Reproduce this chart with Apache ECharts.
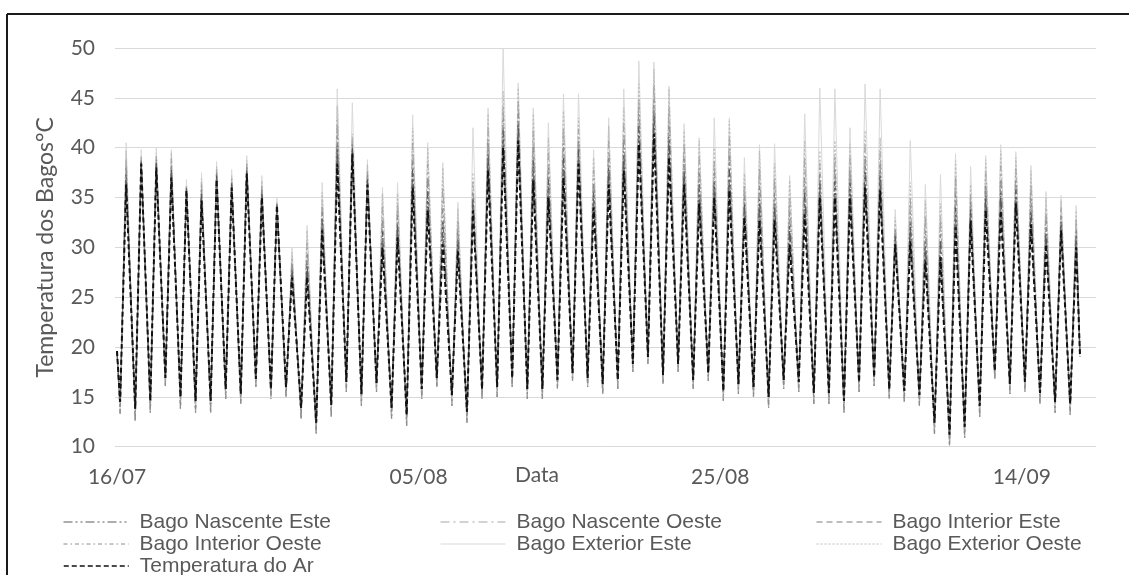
<!DOCTYPE html>
<html>
<head>
<meta charset="utf-8">
<script src="https://cdn.jsdelivr.net/npm/echarts@6/dist/echarts.min.js"></script>
<style>
  html, body { margin: 0; padding: 0; background: #fff; }
  #chart { width: 1129px; height: 575px; }
</style>
</head>
<body>
<div id="chart"></div>
<script>
// ---- DATA ----
// x = days since 16/07 00:00; one daily minimum (early morning) and one daily maximum (afternoon)
const tickDays = [0, 20, 40, 60];
const tickLabels = ['16/07', '05/08', '25/08', '14/09'];
const minHour = 5;      // hour of daily minimum
const maxHour = 14.5;   // hour of daily maximum
const lastReadingDay = 63.86;

const seriesNames = ['Bago Nascente Este', 'Bago Nascente Oeste', 'Bago Interior Este',
  'Bago Interior Oeste', 'Bago Exterior Este', 'Bago Exterior Oeste', 'Temperatura do Ar'];

// daily maxima
const maxNascenteEste = [37.3,38.6,38.5,37.8,35.9,35.4,37.2,36.4,37.8,35.5,34.3,27.8,28.4,32.9,40.2,40.0,36.9,31.6,32.3,37.8,35.6,32.6,30.9,34.9,39.4,41.7,42.3,38.7,36.8,39.0,39.8,35.5,38.1,39.6,42.2,43.4,41.1,37.9,36.3,36.5,37.8,34.3,34.8,34.4,32.2,35.5,36.4,36.7,36.6,37.7,37.3,31.1,32.4,30.5,30.6,34.0,33.8,35.2,35.5,35.8,33.9,31.7,32.6,31.1];
const maxNascenteOeste = [38.9,39.0,39.1,38.9,36.1,36.4,37.8,36.9,38.4,36.3,34.4,28.9,30.5,34.6,42.8,40.9,37.8,34.1,34.3,40.5,38.4,36.1,32.8,36.6,42.0,44.3,44.7,41.7,39.5,42.0,41.9,37.8,40.7,42.4,44.9,46.3,44.2,40.4,39.1,38.8,41.0,36.3,38.0,37.0,35.1,38.9,38.5,39.3,39.1,40.3,39.7,32.3,35.0,33.2,33.1,37.0,35.4,37.5,38.2,37.9,36.4,33.8,34.0,32.8];
const maxInteriorEste = [36.8,38.5,38.2,37.4,35.8,35.0,37.0,36.2,37.6,35.3,34.2,27.4,27.7,32.3,39.3,39.7,36.6,30.8,31.7,36.9,34.6,31.4,30.2,34.3,38.6,40.9,41.5,37.7,35.9,38.0,39.1,34.8,37.2,38.6,41.3,42.4,40.0,37.1,35.3,35.8,36.7,33.7,33.8,33.6,31.3,34.4,35.7,35.9,35.8,36.9,36.5,30.7,31.5,29.6,29.8,33.0,33.2,34.5,34.6,35.1,33.1,31.0,32.2,30.6];
const maxInteriorOeste = [38.0,38.8,38.8,38.3,36.0,35.8,37.5,36.6,38.1,35.9,34.4,28.3,29.4,33.6,41.3,40.4,37.3,32.7,33.2,39.0,36.9,34.2,31.8,35.6,40.6,42.9,43.4,40.1,38.0,40.4,40.7,36.5,39.3,40.9,43.4,44.7,42.5,39.0,37.6,37.5,39.2,35.2,36.2,35.6,33.5,37.0,37.4,37.9,37.7,38.9,38.4,31.7,33.6,31.7,31.7,35.4,34.5,36.3,36.7,36.7,35.0,32.7,33.2,31.9];
const maxExteriorEste = [40.5,39.8,40.0,39.8,36.8,37.5,38.6,37.8,39.2,37.2,35.0,30.0,32.2,36.5,45.9,44.5,38.8,36.0,36.5,43.3,40.5,38.5,34.5,42.0,44.0,49.9,46.5,44.0,42.5,45.4,45.4,39.8,43.0,45.9,48.7,48.6,46.2,42.4,41.0,43.0,43.0,39.0,40.3,40.4,37.2,43.4,46.0,45.9,42.0,46.4,45.9,33.8,40.7,36.3,37.3,39.4,38.1,39.2,40.3,39.6,38.2,35.6,35.2,34.2];
const maxExteriorOeste = [39.7,39.2,39.5,39.5,36.2,36.9,38.1,37.2,38.7,36.7,34.5,29.5,31.7,35.5,44.2,41.4,38.3,35.4,35.4,42.0,40.0,38.0,33.9,37.5,43.4,45.7,46.0,43.4,41.0,43.7,43.0,39.0,42.2,44.0,46.4,47.9,45.9,41.7,40.7,40.0,42.7,37.4,39.7,38.4,36.7,40.7,39.7,40.7,40.4,41.7,41.0,33.0,36.5,34.7,34.4,38.7,36.3,38.8,39.7,39.0,37.7,35.0,34.7,33.7];
const maxAr = [36.3,38.4,38.0,37.0,35.7,34.7,36.8,36.0,37.4,35.0,34.2,27.0,27.0,31.7,38.4,39.4,36.3,30.0,31.0,36.0,33.7,30.3,29.6,33.7,37.7,40.0,40.7,36.7,35.0,37.0,38.4,34.0,36.3,37.7,40.4,41.4,39.0,36.3,34.4,35.0,35.7,33.0,32.7,32.7,30.3,33.3,35.0,35.0,35.0,36.0,35.7,30.3,30.6,28.7,29.0,32.0,32.7,33.7,33.7,34.4,32.3,30.3,31.7,30.0];

// daily minima
const minBago = [13.3,12.6,13.4,16.1,13.8,13.4,13.4,14.8,14.3,16.0,14.8,15.0,12.8,11.3,13.0,15.5,14.1,15.5,12.8,12.1,14.8,16.0,14.1,12.4,14.8,15.0,16.0,14.8,14.8,15.8,16.6,16.0,15.3,15.8,17.5,18.3,16.3,17.5,15.8,16.6,14.6,15.3,15.0,13.9,15.8,15.5,14.3,14.3,13.4,15.5,16.1,14.8,14.5,14.1,11.3,10.1,10.9,13.0,16.8,15.3,15.5,14.3,13.4,13.2];
const minAr = [14.5,13.8,14.6,16.9,15.0,14.6,14.6,15.8,15.3,16.8,15.8,16.0,13.9,12.4,14.2,16.5,15.3,16.4,13.9,13.2,15.8,16.9,15.2,13.5,15.8,16.0,16.9,15.8,15.8,16.7,17.4,16.9,16.3,16.7,18.3,19.0,17.2,18.3,16.7,17.4,15.6,16.3,16.0,15.0,16.7,16.5,15.4,15.4,14.6,16.5,17.0,15.8,15.6,15.2,12.4,11.2,12.0,14.1,17.6,16.3,16.5,15.4,14.5,14.3];

// first and last readings, in seriesNames order
const firstReading = [19.6, 19.4, 19.6, 19.5, 19.3, 19.4, 19.6];
const lastReading = [19.0, 19.2, 19.0, 19.1, 19.3, 19.2, 19.0];

// ---- BUILD ----
function build(maxArr, minArr, idx) {
  const pts = [[0, firstReading[idx]]];
  for (let d = 0; d < maxArr.length; d++) {
    pts.push([d + minHour / 24, minArr[d]]);
    pts.push([d + maxHour / 24, maxArr[d]]);
  }
  pts.push([lastReadingDay, lastReading[idx]]);
  return pts;
}

const seriesDefs = [
  { name: seriesNames[4], max: maxExteriorEste, min: minBago, idx: 4, color: '#d9d9d9', type: 'solid', width: 1 },
  { name: seriesNames[5], max: maxExteriorOeste, min: minBago, idx: 5, color: '#bcbcbc', type: [2, 2], width: 1.2 },
  { name: seriesNames[1], max: maxNascenteOeste, min: minBago, idx: 1, color: '#a6a6a6', type: [9, 4, 2, 4], width: 1.2 },
  { name: seriesNames[3], max: maxInteriorOeste, min: minBago, idx: 3, color: '#8c8c8c', type: [4, 3, 1.5, 3], width: 1.2 },
  { name: seriesNames[2], max: maxInteriorEste, min: minAr, idx: 2, color: '#7a7a7a', type: [6, 4], width: 1.2 },
  { name: seriesNames[0], max: maxNascenteEste, min: minAr, idx: 0, color: '#5a5a5a', type: [9, 3, 2, 3, 2, 3], width: 1.2 },
  { name: seriesNames[6], max: maxAr, min: minAr, idx: 6, color: '#111111', type: [5, 3], width: 2 }
];

const series = seriesDefs.map(s => ({
  name: s.name,
  type: 'line',
  symbol: 'none',
  showSymbol: false,
  data: build(s.max, s.min, s.idx),
  lineStyle: { color: s.color, type: s.type, width: s.width },
  itemStyle: { color: s.color },
  animation: false
}));

const legendCols = [63, 440, 816];
const legendRows = [511, 533, 555];
const legendLayout = [
  [0, 0, 0], [1, 1, 0], [2, 2, 0],
  [3, 0, 1], [4, 1, 1], [5, 2, 1],
  [6, 0, 2]
];
const legends = legendLayout.map(([si, c, r]) => ({
  data: [seriesNames[si]],
  left: legendCols[c],
  top: legendRows[r],
  padding: 0,
  itemWidth: 65,
  itemHeight: 14,
  selectedMode: false,
  itemStyle: { opacity: 0 },
  lineStyle: { width: si === 6 ? 1.5 : 1 },
  textStyle: { fontFamily: 'Liberation Sans', fontSize: 21, color: '#595959', lineHeight: 22, padding: [0, 0, 0, 6] }
}));

const chart = echarts.init(document.getElementById('chart'), null, { renderer: 'canvas' });
chart.setOption({
  animation: false,
  backgroundColor: '#ffffff',
  grid: { left: 115, right: 33, top: 48, bottom: 128.3 },
  legend: legends,
  xAxis: {
    type: 'value',
    min: -0.133,
    max: 64.92,
    axisLine: { show: false },
    axisTick: { show: false },
    splitLine: { show: false },
    axisLabel: {
      customValues: tickDays,
      formatter: v => { const i = tickDays.indexOf(Math.round(v)); return i >= 0 ? tickLabels[i] : ''; },
      fontFamily: 'Lato', fontSize: 21, color: '#595959', margin: 20
    }
  },
  yAxis: {
    type: 'value',
    min: 10, max: 50, interval: 5,
    name: 'Temperatura dos Bagos°C',
    nameLocation: 'middle',
    nameGap: 58,
    nameTextStyle: { fontFamily: 'Lato', fontSize: 23, color: '#595959' },
    axisLine: { show: false },
    axisTick: { show: false },
    splitLine: { lineStyle: { color: '#d9d9d9', width: 1 } },
    axisLabel: { fontFamily: 'Lato', fontSize: 21, color: '#595959', margin: 20 }
  },
  graphic: [
    { type: 'line', shape: { x1: 7, y1: 14, x2: 1129, y2: 14 }, style: { stroke: '#1a1a1a', lineWidth: 2 } },
    { type: 'line', shape: { x1: 7, y1: 14, x2: 7, y2: 575 }, style: { stroke: '#1a1a1a', lineWidth: 2 } },
    { type: 'text', left: 515, top: 465, style: { text: 'Data', font: '21px Lato', fill: '#595959' } }
  ],
  series: series
});
</script>
</body>
</html>
